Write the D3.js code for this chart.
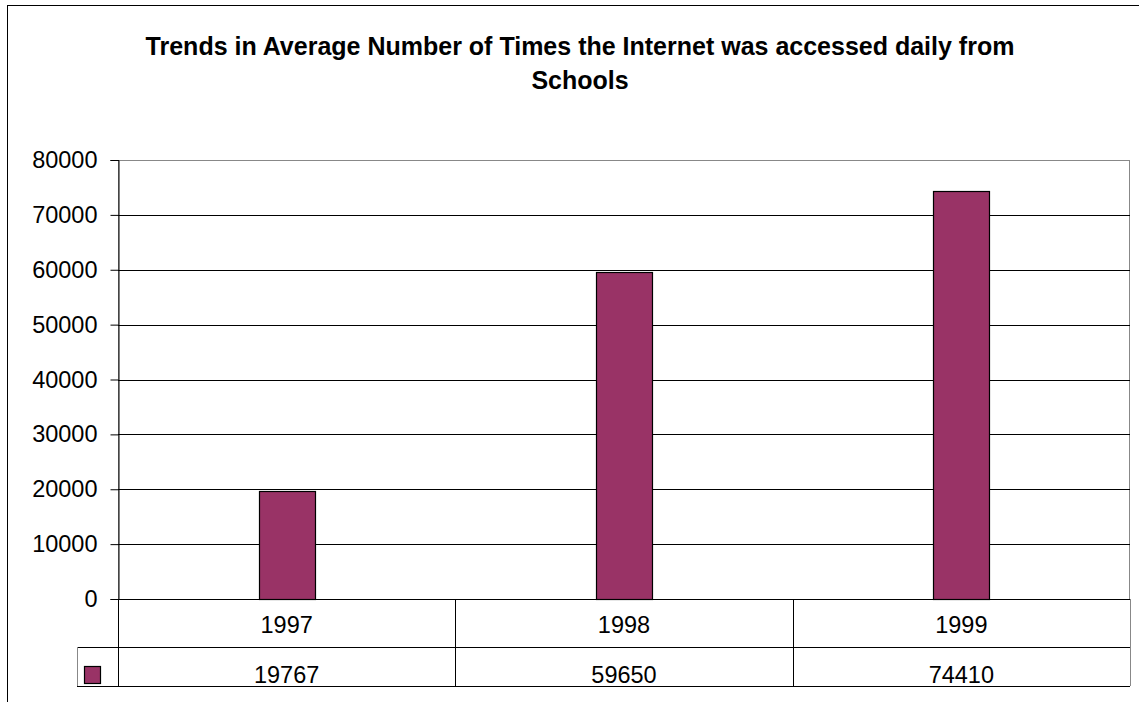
<!DOCTYPE html>
<html><head><meta charset="utf-8">
<script src="https://cdn.jsdelivr.net/npm/d3@7"></script>
<style>body{margin:0;background:#fff}svg{display:block}text{font-family:"Liberation Sans",Arial,sans-serif;fill:#000}</style>
</head><body>
<svg id="c" width="1139" height="702"></svg>
<script>
const titleLines = ["Trends in Average Number of Times the Internet was accessed daily from", "Schools"];
const categories = ["1997", "1998", "1999"];
const values = [19767, 59650, 74410];
const yTicks = [0, 10000, 20000, 30000, 40000, 50000, 60000, 70000, 80000];

const svg = d3.select("#c");
const L = 118, R = 1130, T = 160, B = 599;
const row1 = 647, row2 = 686, legLeft = 77;
const barColor = "#993366";
const fs = 23.5;

// outer frame
svg.append("rect").attr("x", 7.5).attr("y", 5.5).attr("width", 1200).attr("height", 800)
  .attr("fill", "none").attr("stroke", "#000").attr("stroke-width", 1);

// title
svg.append("g").selectAll("text").data(titleLines).join("text")
  .attr("x", 580).attr("y", (d, i) => 55 + i * 34)
  .attr("text-anchor", "middle").attr("font-size", 25).attr("font-weight", "bold")
  .text(d => d);

const x = d3.scaleBand().domain(categories).range([L, R]).paddingInner(0.834).paddingOuter(0.417);
const y = d3.scaleLinear().domain([0, 80000]).range([B, T]);

// plot border (top/right grey)
svg.append("rect").attr("x", L + 0.5).attr("y", T + 0.5).attr("width", R - L - 1).attr("height", B - T)
  .attr("fill", "none").attr("stroke", "#888").attr("stroke-width", 1);

// gridlines
svg.append("g").selectAll("line").data(yTicks.filter(v => v > 0 && v < 80000)).join("line")
  .attr("x1", L).attr("x2", R).attr("y1", d => Math.round(y(d)) + 0.5).attr("y2", d => Math.round(y(d)) + 0.5)
  .attr("stroke", "#000").attr("stroke-width", 1);

// y axis
const yAxis = d3.axisLeft(y).tickValues(yTicks).tickSize(8).tickPadding(13).tickFormat(d3.format("d"));
const ga = svg.append("g").attr("transform", `translate(${L + 0.5},0)`).call(yAxis);
ga.select(".domain").attr("stroke", "#000");
ga.selectAll(".tick line").attr("stroke", "#000");
ga.selectAll(".tick text").attr("font-size", fs).attr("font-family", '"Liberation Sans",Arial,sans-serif').attr("fill", "#000");

// bars
svg.append("g").selectAll("rect").data(values).join("rect")
  .attr("x", (d, i) => Math.round(x(categories[i])) + 0.5)
  .attr("y", d => Math.round(y(d)) + 0.5)
  .attr("width", x.bandwidth())
  .attr("height", d => B - Math.round(y(d)))
  .attr("fill", barColor).attr("stroke", "#000").attr("stroke-width", 1.2);

// baseline
svg.append("line").attr("x1", L).attr("x2", R).attr("y1", B + 0.5).attr("y2", B + 0.5).attr("stroke", "#000");

// data table
const tg = svg.append("g").attr("stroke", "#000").attr("stroke-width", 1);
const seps = [L, ...categories.map(c => x(c) + x.bandwidth() / 2 + x.step() / 2)];
tg.selectAll("line.v").data(seps).join("line").attr("class", "v")
  .attr("x1", d => Math.round(d) + 0.5).attr("x2", d => Math.round(d) + 0.5)
  .attr("y1", B).attr("y2", row2)
  .attr("stroke", (d, i) => i === seps.length - 1 ? "#888" : "#000");
tg.append("line").attr("x1", legLeft).attr("x2", R).attr("y1", row1 + 0.5).attr("y2", row1 + 0.5);
tg.append("line").attr("x1", legLeft).attr("x2", R).attr("y1", row2 + 0.5).attr("y2", row2 + 0.5);
tg.append("line").attr("x1", legLeft + 0.5).attr("x2", legLeft + 0.5).attr("y1", row1).attr("y2", row2).attr("stroke", "#888");

// legend key
svg.append("rect").attr("x", 84.5).attr("y", 666.5).attr("width", 16).attr("height", 17)
  .attr("fill", barColor).attr("stroke", "#000").attr("stroke-width", 1.2);

svg.append("g").selectAll("text").data(categories).join("text")
  .attr("x", d => x(d) + x.bandwidth() / 2).attr("y", 633)
  .attr("text-anchor", "middle").attr("font-size", fs).text(d => d);
svg.append("g").selectAll("text").data(values).join("text")
  .attr("x", (d, i) => x(categories[i]) + x.bandwidth() / 2).attr("y", 683)
  .attr("text-anchor", "middle").attr("font-size", fs).text(d => d);
</script>
</body></html>
